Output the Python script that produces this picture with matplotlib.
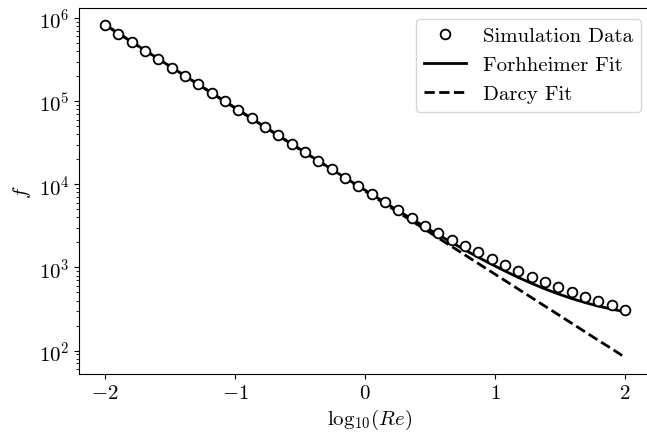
import numpy as np
from matplotlib import pyplot as plt

plt.rcParams['font.family'] = 'serif'
plt.rcParams['font.serif'] = ['cmr10']
plt.rcParams['mathtext.fontset'] = 'cm'
plt.rcParams['axes.formatter.use_mathtext'] = True
plt.rcParams['font.size'] = 15

# log10(Re) at the 40 simulation points
log_re = np.linspace(-2, 2, 40)

# friction factor
f_sim = [818000, 648000, 514000, 406000, 321000, 254000, 201000, 159000,
         125000, 99500, 78600, 62200, 49200, 38900, 30800, 24200,
         19100, 15100, 11950, 9500, 7560, 6080, 4860, 3920,
         3180, 2600, 2160, 1820, 1520, 1260, 1060, 900,
         770, 670, 585, 510, 447, 400, 355, 307]

# fitted curves evaluated at the same points
f_forch = [830200, 655700, 517800, 408900, 322900, 255000, 201400, 159100,
           125700, 99310, 78460, 62000, 49000, 38740, 30630, 24230,
           19180, 15190, 12040, 9548, 7587, 6034, 4809, 3841,
           3078, 2474, 1998, 1622, 1325, 1091, 905.5, 758.6,
           643.3, 552.0, 480.6, 423.3, 378.5, 342.8, 315.4, 293.0]

f_darcy = [830000, 655500, 517600, 408700, 322700, 254800, 201200, 158900,
           125500, 99100, 78250, 61790, 48790, 38530, 30420, 24020,
           18970, 14980, 11830, 9338, 7377, 5824, 4599, 3631,
           2868, 2264, 1788, 1412, 1115, 880.6, 695.5, 548.6,
           433.3, 342.0, 270.6, 213.3, 168.5, 132.8, 105.4, 83.0]

fig = plt.figure(figsize=(6.47, 4.35), dpi=100)
# axes run past the right edge, like the cropped original
ax = fig.add_axes([79 / 647, 0.138, 581 / 647, 0.841])

ax.plot(log_re, f_sim, 'o', markerfacecolor='white', markeredgecolor='black',
        markersize=7, markeredgewidth=1.3, label='Simulation Data', zorder=3)
ax.plot(log_re, f_forch, '-', color='black', lw=2, label='Forhheimer Fit')
ax.plot(log_re, f_darcy, '--', color='black', lw=2, label='Darcy Fit')

ax.set_yscale('log')
ax.set_xlim(-2.2, 2.2 + 9 / 130)
ax.set_xticks([-2, -1, 0, 1, 2])
ax.set_xlabel(r'$\mathrm{log}_{10}(Re)$')
ax.set_ylabel(r'$f$')

ax.legend(loc='upper right', fontsize=15, bbox_to_anchor=(0.985, 1.0))

fig.savefig('out.png', dpi=100)
